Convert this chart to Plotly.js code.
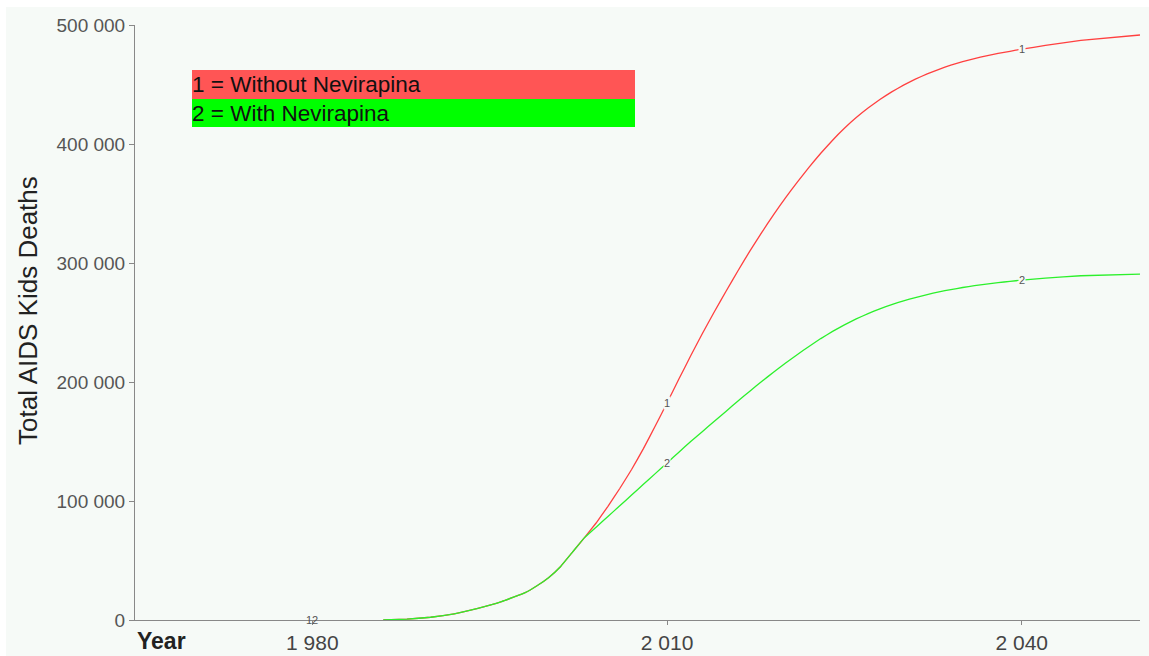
<!DOCTYPE html>
<html>
<head>
<meta charset="utf-8">
<script src="https://cdn.plot.ly/plotly-3.0.1.min.js"></script>
<style>
html,body{margin:0;padding:0;background:#ffffff;overflow:hidden;width:1149px;height:656px}
#chart{position:absolute;left:6px;top:7px;width:1143px;height:649px}
</style>
</head>
<body>
<div id="chart"></div>
<script>
// ---- data ----
const yearsWithout = [1986,1988,1990,1992,1994,1996,1998,1999,2000,2001,2002,2003,2004,2005,2006,2007,2008,2009,2010,2011,2012,2013,2014,2015,2016,2017,2018,2019,2020,2021,2022,2023,2024,2025,2026,2027,2028,2029,2030,2031,2032,2033,2034,2035,2036,2037,2038,2039,2040,2042,2045,2050];
const deathsWithout = [0,700,2300,5200,9800,15400,23000,28800,35800,45000,57000,69000,81500,95500,110500,126500,144000,163000,182500,202500,222000,241000,259000,276500,293500,310000,325500,340500,354500,367800,380400,392200,403200,413200,422200,430200,437400,443800,449500,454500,458900,462800,466200,469200,471800,474100,476100,477900,479700,482800,487000,491600];

const yearsWith = [1986,1988,1990,1992,1994,1996,1998,1999,2000,2001,2002,2003,2004,2005,2006,2007,2008,2009,2010,2011,2012,2013,2014,2015,2016,2017,2018,2019,2020,2021,2022,2023,2024,2025,2026,2027,2028,2029,2030,2031,2032,2033,2034,2035,2036,2037,2038,2039,2040,2042,2045,2050];
const deathsWith = [0,700,2300,5200,9800,15400,23000,28800,35800,45000,57000,69000,78000,87000,96000,105000,114000,123000,132000,141000,150000,158500,167000,175500,184000,192300,200400,208200,215700,222900,229900,236500,242500,248000,253000,257500,261500,265000,268200,271000,273500,275700,277700,279400,280900,282300,283500,284600,285600,287300,289300,290700];

const xTickVals = [1980, 2010, 2040];
const xTickText = ['1\u00a0980', '2\u00a0010', '2\u00a0040'];
const yTickVals = [0, 100000, 200000, 300000, 400000, 500000];
const yTickText = ['0', '100\u00a0000', '200\u00a0000', '300\u00a0000', '400\u00a0000', '500\u00a0000'];

const seriesNames = ['1 = Without Nevirapina', '2 = With Nevirapina'];
const seriesIds = ['1', '2'];
const labelYears = [1980, 2010, 2040];

// ---- helpers ----
function valueAt(xs, ys, x) {
  if (x <= xs[0]) return ys[0];
  for (let i = 1; i < xs.length; i++) {
    if (x <= xs[i]) {
      const t = (x - xs[i-1]) / (xs[i] - xs[i-1]);
      return ys[i-1] + t * (ys[i] - ys[i-1]);
    }
  }
  return ys[ys.length - 1];
}

const BG = '#f6faf7';
const FONT = 'Liberation Sans, Arial, sans-serif';
const RED = '#ff4040';
const GREEN = '#2cf02c';

const traces = [
  {x: yearsWithout, y: deathsWithout, type: 'scatter', mode: 'lines', name: seriesNames[0],
   line: {color: RED, width: 1.3, shape: 'spline', smoothing: 0.25}, hoverinfo: 'x+y'},
  {x: yearsWith, y: deathsWith, type: 'scatter', mode: 'lines', name: seriesNames[1],
   line: {color: GREEN, width: 1.3, shape: 'spline', smoothing: 0.25}, hoverinfo: 'x+y'}
];

const annotations = [];
const series = [[yearsWithout, deathsWithout], [yearsWith, deathsWith]];
labelYears.forEach(function (yr) {
  series.forEach(function (s, k) {
    const onStart = yr < s[0][0];
    annotations.push({
      x: yr, y: onStart ? 0 : valueAt(s[0], s[1], yr), xref: 'x', yref: 'y',
      text: seriesIds[k], showarrow: false,
      xshift: onStart ? (k === 0 ? -3 : 3) : 0,
      font: {family: FONT, size: 11, color: '#555'},
      bgcolor: onStart ? 'rgba(0,0,0,0)' : BG, borderpad: 0
    });
  });
});

// legend-like colored boxes
const boxColors = ['#ff5555', '#00ff00'];
const pxX = function (px) { return (px - 135) / 1005; };
const pxY = function (py) { return (620 - py) / 595; };
const boxRows = [[70, 99], [99, 127]];
const shapes = [];
boxRows.forEach(function (r, k) {
  shapes.push({type: 'rect', xref: 'paper', yref: 'paper', x0: pxX(192), x1: pxX(635),
    y0: pxY(r[1]), y1: pxY(r[0]), fillcolor: boxColors[k], line: {width: 0}, layer: 'above'});
  annotations.push({xref: 'paper', yref: 'paper', x: pxX(190), y: pxY((r[0] + r[1]) / 2),
    xanchor: 'left', yanchor: 'middle', showarrow: false, text: seriesNames[k],
    font: {family: FONT, size: 22.5, color: '#111'}});
});

annotations.push({xref: 'paper', yref: 'paper', x: pxX(135), y: pxY(641), xanchor: 'left', yanchor: 'middle',
  showarrow: false, text: '<b>Year</b>', font: {family: FONT, size: 23, color: '#222'}});
annotations.push({xref: 'paper', yref: 'paper', x: pxX(28), y: pxY(311), xanchor: 'center', yanchor: 'middle',
  showarrow: false, textangle: -90, text: 'Total AIDS Kids Deaths', font: {family: FONT, size: 26, color: '#222'}});

const layout = {
  width: 1143, height: 649,
  margin: {l: 129, r: 9, t: 18, b: 36},
  paper_bgcolor: BG, plot_bgcolor: BG,
  showlegend: false,
  xaxis: {range: [1965, 2050], tickmode: 'array', tickvals: xTickVals, ticktext: xTickText,
    showline: true, linecolor: '#888', linewidth: 1, ticks: 'outside', ticklen: 4, tickcolor: '#888',
    tickfont: {family: FONT, size: 21, color: '#444'}, ticklabelstandoff: 0,
    showgrid: false, zeroline: false, fixedrange: true},
  yaxis: {range: [0, 500000], tickmode: 'array', tickvals: yTickVals, ticktext: yTickText,
    showline: true, linecolor: '#888', linewidth: 1, ticks: 'outside', ticklen: 5, tickcolor: '#888',
    tickfont: {family: FONT, size: 19, color: '#555'}, ticklabelstandoff: 0,
    showgrid: false, zeroline: false, fixedrange: true},
  shapes: shapes,
  annotations: annotations
};

Plotly.newPlot('chart', traces, layout, {displayModeBar: false, staticPlot: true});
</script>
</body>
</html>
